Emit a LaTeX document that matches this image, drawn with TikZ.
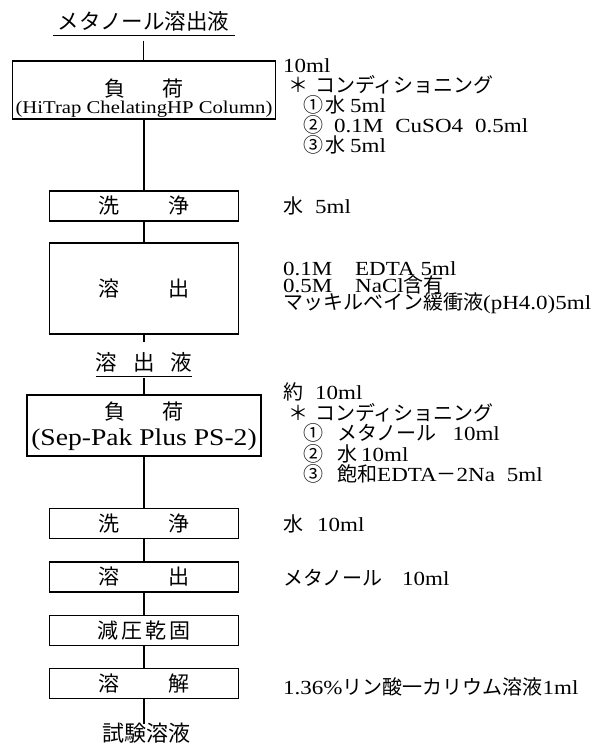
\documentclass[tikz,border=0pt]{standalone}
\usepackage{fontspec}
\setmainfont{Liberation Serif}[FakeStretch=1.15]
\newfontfamily\jp{Noto Sans CJK JP}
\usetikzlibrary{positioning}
\newcommand{\J}[1]{{\jp #1}}
\newcommand{\fs}[1]{\fontsize{#1}{#1}\selectfont}
% lines stacked at a fixed baseline distance
\newcommand{\lstack}[2]{\vbox{\baselineskip=#1\lineskiplimit=-\maxdimen\halign{##\hfil\cr#2\crcr}}}
\newcommand{\cstack}[2]{\vbox{\baselineskip=#1\lineskiplimit=-\maxdimen\halign{\hfil##\hfil\cr#2\crcr}}}

\begin{document}
\begin{tikzpicture}[x=1pt,y=-1pt,
    flow/.style={line width=1.1pt},
    stepbox/.style={draw,line width=1.1pt,minimum width=189pt,minimum height=30pt,inner sep=0pt,font=\fs{21}\jp},
    loadbox/.style={draw,line width=1.1pt,inner sep=0pt},
    heading/.style={inner sep=0pt,text height=17pt,text depth=3pt,font=\fs{21.5}\jp},
    note/.style={inner sep=0pt,font=\fs{20}}]
  \useasboundingbox (0,0) rectangle (596,749);

  % flow column
  \node[heading] (src) at (143.5,22.5) {メタノール溶出液};
  \draw[flow] ([xshift=-4.5pt,yshift=-3pt]src.south west) -- ([xshift=5.5pt,yshift=-3pt]src.south east);
  \node[loadbox,minimum width=263pt,minimum height=58pt,font=\fs{18}] (load1) at (144,90)
    {\cstack{17pt}{{\jp\fs{21}\rule{0pt}{34pt}負\hspace{38pt}荷}\cr(HiTrap ChelatingHP Column)}};
  \node[stepbox] (wash1) at (144,206) {洗\hspace{49pt}浄};
  \node[stepbox,minimum height=91pt] (elute1) at (144,288.5) {溶\hspace{49pt}出};
  \node[heading] (eluate) at (144,363.5) {溶\hspace{16pt}出\hspace{16pt}液};
  \draw[flow] ([yshift=-3pt]eluate.south west) -- ([yshift=-3pt]eluate.south east);
  \node[loadbox,minimum width=234pt,minimum height=61pt,font=\fs{24}] (load2) at (144,425.5)
    {\cstack{26pt}{{\jp\fs{21}\rule{0pt}{20pt}負\hspace{38pt}荷}\cr(Sep-Pak Plus PS-2)}};
  \node[stepbox] (wash2) at (144,523.5) {洗\hspace{49pt}浄};
  \node[stepbox] (elute2) at (144,577) {溶\hspace{49pt}出};
  \node[stepbox] (dry) at (144,630.5) {減\hspace{3.3pt}圧\hspace{3.3pt}乾\hspace{3.3pt}固};
  \node[stepbox] (diss) at (144,683.5) {溶\hspace{49pt}解};
  \node[heading,font=\fs{22}\jp] (sample) at (146.5,734) {試験溶液};

  \draw[flow] ([yshift=-8pt]src.south) -- (src.south |- load1.north);
  \draw[flow] (load1) -- (wash1);
  \draw[flow] (wash1) -- (elute1);
  \draw[flow] (elute1) -- ([yshift=11pt]eluate.north);
  \draw[flow] ([yshift=-4.5pt]eluate.south) -- (load2);
  \draw[flow] (load2) -- (wash2);
  \draw[flow] (wash2) -- (elute2);
  \draw[flow] (elute2) -- (dry);
  \draw[flow] (dry) -- (diss);
  \draw[flow] (diss) -- (diss |- sample.north);

  % conditions on the right
  \node[note,anchor=north west] (cond1) at (283,58)
    {\lstack{20pt}{10ml\cr
     \hspace*{5pt}\makebox[27pt][l]{\J{＊}}\J{コンディショニング}\cr
     \hspace*{20pt}\makebox[22pt][l]{\J{①}}\J{水}\hspace{5pt}5ml\cr
     \hspace*{20pt}\makebox[19pt][l]{\J{②}}\hspace{12pt}0.1M\hspace{12pt}CuSO4\hspace{12pt}0.5ml\cr
     \hspace*{20pt}\makebox[22pt][l]{\J{③}}\J{水}\hspace{5pt}5ml}};
  \node[note,anchor=west] (wash1note) at (283,206) {\makebox[32pt][l]{\J{水}}5ml};
  \node[note,anchor=north west] (elute1note) at (283,261)
    {\lstack{17pt}{\makebox[72pt][l]{0.1M}EDTA\hspace{6pt}5ml\cr
     \makebox[72pt][l]{0.5M}NaCl\J{含有}\cr
     \J{マッキルベイン緩衝液}(pH4.0)5ml}};
  \node[note,anchor=north west] (cond2) at (283,382.5)
    {\lstack{20.5pt}{\makebox[32pt][l]{\J{約}}10ml\cr
     \hspace*{5pt}\makebox[27pt][l]{\J{＊}}\J{コンディショニング}\cr
     \hspace*{20pt}\makebox[34pt][l]{\J{①}}\J{メタノール}\hspace{16pt}10ml\cr
     \hspace*{20pt}\makebox[34pt][l]{\J{②}}\J{水}\hspace{4pt}10ml\cr
     \hspace*{20pt}\makebox[34pt][l]{\J{③}}\J{飽和}EDTA\J{－}2Na\hspace{12pt}5ml}};
  \node[note,anchor=west] (wash2note) at (283,524) {\makebox[34pt][l]{\J{水}}10ml};
  \node[note,anchor=west] (elute2note) at (283,578) {\makebox[119pt][l]{\J{メタノール}}10ml};
  \node[note,anchor=west] (dissnote) at (283,687) {1.36\%\J{リン酸一カリウム溶液}1ml};
\end{tikzpicture}
\end{document}
